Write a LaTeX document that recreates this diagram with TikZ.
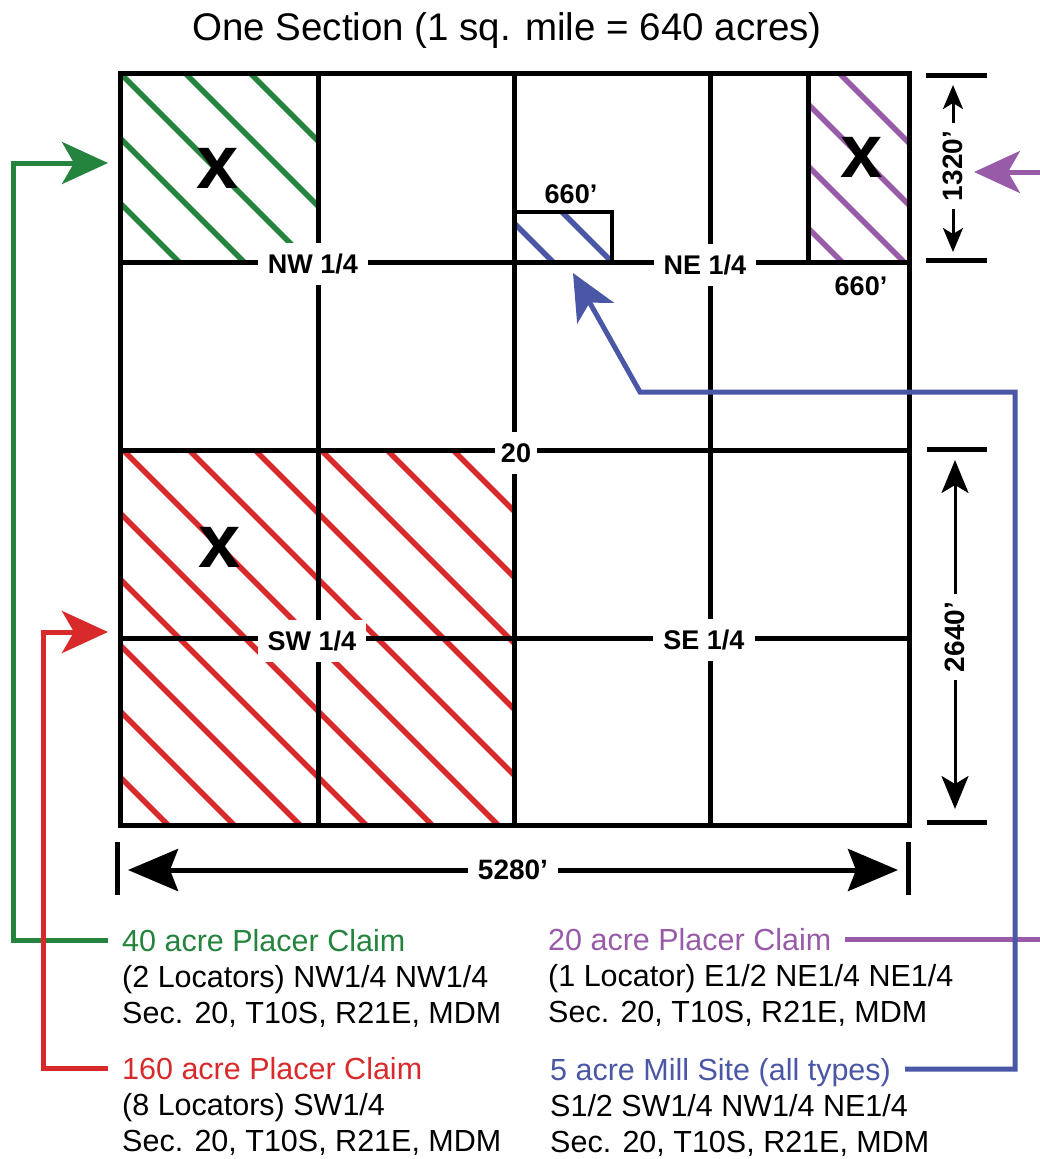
\documentclass[tikz,border=0pt]{standalone}
\usepackage{fontspec}
\setmainfont{Liberation Sans}
\usetikzlibrary{arrows.meta}
\definecolor{claimgreen}{RGB}{36,131,60}
\definecolor{claimred}{RGB}{216,42,42}
\definecolor{claimpurple}{RGB}{152,91,168}
\definecolor{millblue}{RGB}{74,86,166}
\tikzstyle{secline}=[line width=5pt, line cap=rect]
\tikzstyle{hatch}=[line width=5.5pt]
\tikzstyle{quarter}=[fill=white, inner xsep=10pt, inner ysep=11pt, font=\bfseries\fontsize{27}{27}\selectfont]
\tikzstyle{footlbl}=[inner sep=0pt, font=\bfseries\fontsize{27}{27}\selectfont]
\tikzstyle{claimx}=[inner sep=0pt, font=\bfseries\fontsize{76}{76}\selectfont]
\tikzstyle{dimlbl}=[inner sep=8pt, font=\bfseries\fontsize{28}{28}\selectfont]
\tikzstyle{dimtick}=[line width=5pt]
\tikzstyle{dimsmall}=[line width=3pt, -{Stealth[length=24pt, width=20pt, inset=6pt]}]
\tikzstyle{dimmid}=[line width=3pt, -{Stealth[length=33pt, width=27pt, inset=8pt]}]
\tikzstyle{dimbig}=[line width=5pt, -{Stealth[length=50pt, width=42pt, inset=8pt]}]
\tikzstyle{conn}=[line width=5pt, -{Stealth[length=46pt, width=42pt, inset=12pt]}]
\tikzstyle{claim}=[anchor=west, inner xsep=14pt, inner ysep=0pt, text height=22pt, text depth=0pt, font=\fontsize{30.5}{36}\selectfont]
\tikzstyle{claimline}=[anchor=base west, inner xsep=14pt, inner ysep=0pt, font=\fontsize{30.5}{36}\selectfont]
\begin{document}
\begin{tikzpicture}[x=1pt, y=-1pt]
        \useasboundingbox (0,0) rectangle (1039,1159);
        \node[font=\fontsize{38.5}{40}\selectfont] (title) at (507,31) {One Section (1 sq. mile = 640 acres)};
        % hatched claims
        \begin{scope}
            \clip (120,73) rectangle (318,262);
            \foreach \c in {-83,-18,47,112,177} \draw[hatch, claimgreen] (\c,0) -- ++(1000,1000);
        \end{scope}
        \begin{scope}
            \clip (120,450) rectangle (514,825);
            \foreach \k in {0,...,10} \draw[hatch, claimred] ({3-66*\k},0) -- ++(1000,1000);
        \end{scope}
        \begin{scope}
            \clip (514,212) rectangle (612,262);
            \foreach \c in {291,350} \draw[hatch, millblue] (\c,0) -- ++(1000,1000);
        \end{scope}
        \begin{scope}
            \clip (808,73) rectangle (909,262);
            \foreach \c in {580,642,704,766} \draw[hatch, claimpurple] (\c,0) -- ++(1000,1000);
        \end{scope}
        % section grid
        \draw[secline] (120,73) rectangle (909,825);
        \foreach \x in {318,514,710} \draw[secline] (\x,73) -- (\x,825);
        \foreach \y in {262,450,638} \draw[secline] (120,\y) -- (909,\y);
        \draw[secline] (808,73) -- (808,262);
        \draw[line width=4.5pt] (514,212) -| (612,262);
        \node[quarter] (nwq) at (313,264) {NW 1/4};
        \node[quarter] (neq) at (705,265) {NE 1/4};
        \node[quarter] (swq) at (312,641) {SW 1/4};
        \node[quarter] (seq) at (704,640) {SE 1/4};
        \node[quarter, inner xsep=6pt] (secno) at (516,453) {20};
        \node[claimx] (xnw) at (218,168) {x};
        \node[claimx] (xne) at (862,157) {x};
        \node[claimx] (xsw) at (220,547) {x};
        \node[footlbl] (millw) at (571,194) {660’};
        \node[footlbl] (halfw) at (861,286) {660’};
        % dimensions
        \draw[dimtick] (926,75) -- (987,75);
        \draw[dimtick] (926,260) -- (987,260);
        \node[dimlbl, rotate=90] (dima) at (953,166) {1320’};
        \coordinate (dimat) at (953,85);
        \coordinate (dimab) at (953,252);
        \draw[dimsmall] (dima) -- (dimat);
        \draw[dimsmall] (dima) -- (dimab);
        \draw[dimtick] (927,449) -- (987,449);
        \draw[dimtick] (927,822) -- (987,822);
        \node[dimlbl, rotate=90] (dimb) at (955,637) {2640’};
        \coordinate (dimbt) at (955,460);
        \coordinate (dimbb) at (955,809);
        \draw[dimmid] (dimb) -- (dimbt);
        \draw[dimmid] (dimb) -- (dimbb);
        \draw[dimtick] (117,842) -- (117,895);
        \draw[dimtick] (908,842) -- (908,895);
        \node[dimlbl, inner xsep=10pt] (dimc) at (513,870) {5280’};
        \coordinate (dimcl) at (128,870);
        \coordinate (dimcr) at (898,870);
        \draw[dimbig] (dimc) -- (dimcl);
        \draw[dimbig] (dimc) -- (dimcr);
        % claim texts
        \node[claim, claimgreen] (gtitle) at (108,940) {40 acre Placer Claim};
        \node[claimline] (gline) at (108,987) {(2 Locators) NW1/4 NW1/4};
        \node[claimline] (gsec) at (108,1023) {Sec. 20, T10S, R21E, MDM};
        \node[claim, claimred] (rtitle) at (108,1068) {160 acre Placer Claim};
        \node[claimline] (rline) at (108,1115) {(8 Locators) SW1/4};
        \node[claimline] (rsec) at (108,1151) {Sec. 20, T10S, R21E, MDM};
        \node[claim, claimpurple] (ptitle) at (534,939) {20 acre Placer Claim};
        \node[claimline] (pline) at (534,986) {(1 Locator) E1/2 NE1/4 NE1/4};
        \node[claimline] (psec) at (534,1022) {Sec. 20, T10S, R21E, MDM};
        \node[claim, millblue] (btitle) at (536,1069) {5 acre Mill Site (all types)};
        \node[claimline] (bline) at (536,1116) {S1/2 SW1/4 NW1/4 NE1/4};
        \node[claimline] (bsec) at (536,1152) {Sec. 20, T10S, R21E, MDM};
        % connectors
        \coordinate (gtip) at (108,163);
        \coordinate (rtip) at (108,632);
        \coordinate (ptip) at (974,172);
        \coordinate (pturn) at (1060,939);
        \coordinate (bturn) at (1015,392);
        \coordinate (bknee) at (640,392);
        \coordinate (btip) at (573,273);
        \draw[conn, claimgreen] (gtitle.west) -- ++(-95,0) |- (gtip);
        \draw[conn, claimred] (rtitle.west) -- ++(-65,0) |- (rtip);
        \draw[conn, claimpurple] (ptitle.east) -- (pturn) |- (ptip);
        \draw[conn, millblue] (btitle.east) -| (bturn) -- (bknee) -- (btip);
    \end{tikzpicture}
\end{document}
